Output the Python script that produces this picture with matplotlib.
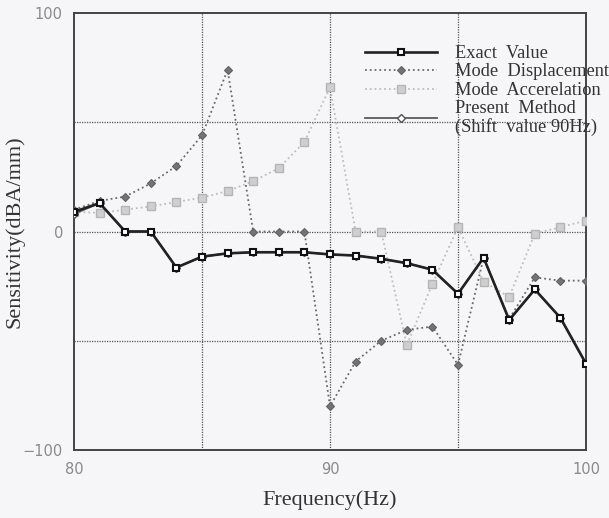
import matplotlib
matplotlib.use("Agg")
import matplotlib.pyplot as plt
import numpy as np

# sensitivity vs frequency, one value per Hz
freq = np.arange(80, 101)
exact_value = [9, 13, 0, 0, -16.5, -11.5, -10, -9.5, -9.5, -9.5, -10.5,
               -11, -12.5, -14.5, -17.5, -28.5, -12, -40.5, -26.5, -39.5, -60.5]
mode_disp = [10, 14, 16, 22, 30, 44, 74, 0, 0, 0, -80,
             -59.5, -50, -45, -43.5, -61, -12, -40, -21, -22.5, -22.5]
mode_accel = [9, 8.5, 10, 11.5, 13.5, 15.5, 18.5, 23, 29, 41, 66,
              0, 0, -52, -24, 2, -23, -30, -1, 2, 5]
present = [8, 13, 0, 0, -16.5, -11.5, -10, -9.5, -9.5, -9.5, -10.5,
           -11, -12.5, -14.5, -17.5, -28.5, -12, -40.5, -26.5, -39.5, -60.5]

x_ticks = [80, 90, 100]
y_ticks = [-100, 0, 100]
x_grid = [85, 90, 95]
y_grid = [-50, 0, 50]

bg = "#f6f6f8"
fig = plt.figure(figsize=(6.09, 5.18), dpi=100, facecolor=bg)
ax = fig.add_axes([74 / 609, 1 - 450 / 518, 512 / 609, 437 / 518], facecolor=bg)

# dotted reference grid
for gx in x_grid:
    ax.axvline(gx, color="#555555", linestyle=(0, (1, 1)), lw=0.9, zorder=1)
for gy in y_grid:
    ax.axhline(gy, color="#555555", linestyle=(0, (1, 1)), lw=0.9, zorder=1)

ax.plot(freq, mode_accel, linestyle=":", color="#bdbdbd", lw=1.3,
        marker="s", ms=5.5, mfc="#cfcfcf", mec="#b5b5b5", mew=1.0,
        label="Mode  Accerelation", zorder=3)
ax.plot(freq, mode_disp, linestyle=":", color="#6a6a6a", lw=1.3,
        marker="D", ms=4, mfc="#737373", mec="#626262", mew=0.8,
        label="Mode  Displacement", zorder=4)
ax.plot(freq, present, linestyle="-", color="#5a5a5a", lw=1.3,
        marker="D", ms=4.5, mfc="white", mec="#555555", mew=1.0,
        label="Present  Method\n(Shift  value 90Hz)", zorder=5)
ax.plot(freq, exact_value, linestyle="-", color="#222222", lw=1.9,
        marker="s", ms=5, mfc="white", mec="#111111", mew=1.5,
        label="Exact  Value", zorder=6)

ax.set_xlim(80, 100)
ax.set_ylim(-100, 100)
ax.set_xticks(x_ticks)
ax.set_yticks(y_ticks)
ax.tick_params(length=0)
ax.tick_params(axis="y", pad=8, labelsize=10.5, labelcolor="#8a8a8a")
ax.tick_params(axis="x", pad=9, labelsize=10.5, labelcolor="#8a8a8a")

for sp in ax.spines.values():
    sp.set_color("#444444")
    sp.set_linewidth(1.4)

ax.set_xlabel("Frequency(Hz)", family="Liberation Serif", fontsize=16,
              color="#333333")
ax.set_ylabel("Sensitivity(dBA/mm)", family="Liberation Serif", fontsize=16,
              color="#333333")
ax.xaxis.set_label_coords(0.5, -0.092)
ax.yaxis.set_label_coords(-0.097, 0.5)

handles, labels = ax.get_legend_handles_labels()
order = [3, 1, 0, 2]
leg = fig.legend([handles[i] for i in order], [labels[i] for i in order],
                 loc="upper left", bbox_to_anchor=(365 / 609, 1 - 45 / 518),
                 frameon=False, borderpad=0, borderaxespad=0,
                 handlelength=3.9, handletextpad=1.0, labelspacing=0.08,
                 prop={"family": "Liberation Serif", "size": 13.2})
for t in leg.get_texts():
    t.set_color("#333333")
    t.set_linespacing(1.05)

fig.savefig("out.png", dpi=100, facecolor=bg)
